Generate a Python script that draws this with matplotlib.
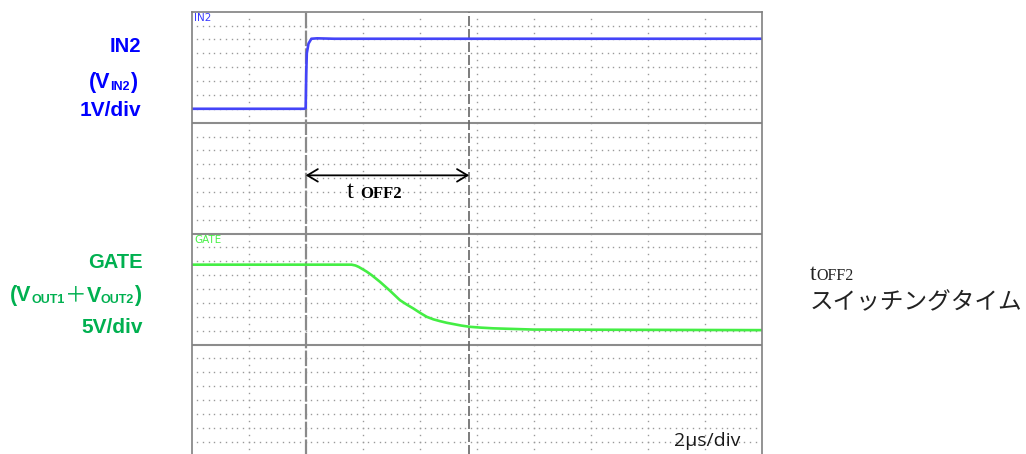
import numpy as np
import matplotlib.pyplot as plt

W, H = 1026, 454

# IN2 trace, volts (1V/div); time in µs from the IN2 edge
in2_t = [-4.0, -0.05, 0.0, 0.02, 0.04, 0.1, 0.2, 0.4, 1.0, 3.0, 8.0, 16.0]
in2_v = [0.0, 0.0, 0.05, 2.5, 4.0, 4.7, 5.05, 5.08, 5.05, 5.05, 5.05, 5.05]

# GATE trace, volts (5V/div)
gate_t = [-4.0, 1.61, 1.75, 1.86, 1.96, 2.14, 2.32, 2.61, 2.96, 3.31, 3.55, 3.78,
          4.02, 4.25, 4.48, 4.71, 4.95, 5.18, 5.46, 5.76, 6.15, 6.58, 8.0, 16.0]
gate_v = [23.8, 23.8, 23.5, 23.0, 22.4, 21.3, 20.0, 17.6, 14.4, 11.0, 9.4, 8.0,
          6.4, 5.0, 4.1, 3.45, 2.85, 2.4, 1.85, 1.4, 1.1, 0.85, 0.4, 0.2]

t_off2 = 5.74  # second cursor, µs

# screen: 10 div x 32 div, four stacked 8-div panels
IN2_ZERO, IN2_SCALE = 25, 1.0
GATE_ZERO, GATE_SCALE = 9, 5.0

fig = plt.figure(figsize=(W / 100, H / 100), dpi=100)
ax = fig.add_axes([191.7 / W, 1 - 455.5 / H, 569.8 / W, 443.8 / H])
ax.set_xlim(-4, 16)
ax.set_ylim(0, 32)
ax.set_xticks([])
ax.set_yticks([])
for s in ax.spines.values():
    s.set_color('#808080')
    s.set_linewidth(1.2)

# dotted graticule
dot = dict(ls='none', marker='s', markersize=1.0, markeredgewidth=0, color='#9a9a9a')
gx = np.arange(-4 + 0.2, 16 - 0.1, 0.2)
for k in range(1, 32):
    if k % 8:
        ax.plot(gx, np.full_like(gx, k), **dot)
gy = np.arange(0.5, 32, 0.5)
for i in range(1, 10):
    if i != 2:
        ax.plot(np.full_like(gy, -4 + 2 * i), gy, **dot)
for k in (8, 16, 24):
    ax.axhline(k, color='#8c8c8c', lw=1.5)

# cursors
ax.axvline(0, color='#8a8a8a', lw=1.6, ls=(0, (7, 1)))
ax.axvline(t_off2, color='#666666', lw=1.2, ls=(0, (6, 1.8)))

# traces
ax.plot(in2_t, IN2_ZERO + np.array(in2_v) / IN2_SCALE, color='#4444f8', lw=1.9)
ax.plot(gate_t, GATE_ZERO + np.array(gate_v) / GATE_SCALE, color='#44ee44', lw=1.9)

ax.text(0.004, 0.996, 'IN2', transform=ax.transAxes, color='#3a3aff',
        fontsize=7.5, va='top', ha='left')
ax.text(0.004, 0.496, 'GATE', transform=ax.transAxes, color='#46f046',
        fontsize=7.5, va='top', ha='left')
ax.text(0.847, 0.022, '2µs/div', transform=ax.transAxes, color='#1a1a1a',
        fontsize=14, family='Open Sans', va='baseline', ha='left')

ax.annotate('', xy=(0, 20.2), xytext=(t_off2, 20.2),
            arrowprops=dict(arrowstyle='<->, head_length=0.75, head_width=0.45',
                            mutation_scale=10, color='black', lw=1.3,
                            shrinkA=0, shrinkB=0))


def fy(y):
    return 1 - y / H


def run(x, y, parts, color):
    # text pieces set one after another on a common baseline (pixels from top)
    prev = None
    for text, size, family, weight, dy in parts:
        kw = dict(color=color, fontsize=size, family=family, fontweight=weight,
                  va='baseline', ha='left')
        if prev is None:
            prev = fig.text(x / W, fy(y + dy), text, **kw)
        else:
            prev = ax.annotate(text, xy=(1, fy(y + dy)),
                               xycoords=(prev, 'figure fraction'),
                               annotation_clip=False, **kw)
    return prev


SANS = ['Liberation Sans', 'DejaVu Sans']
CJK = ['Noto Sans CJK JP', 'DejaVu Sans']
SERIF = ['Liberation Serif', 'DejaVu Serif']
BLUE = '#0000ff'
GREEN = '#00b050'

fig.text(141.5 / W, fy(52), 'IN2', color=BLUE, fontsize=14.5, family=SANS,
         fontweight='bold', ha='right', va='baseline')
run(89, 88, [('(V', 15.5, SANS, 'bold', 0), ('IN2', 9, SANS, 'bold', 1.5),
             (')', 15.5, SANS, 'bold', 0)], BLUE)
fig.text(141.5 / W, fy(116), '1V/div', color=BLUE, fontsize=15, family=SANS,
         fontweight='bold', ha='right', va='baseline')

fig.text(143 / W, fy(268), 'GATE', color=GREEN, fontsize=14.5, family=SANS,
         fontweight='bold', ha='right', va='baseline')
run(10, 301.5, [('(V', 15.5, SANS, 'bold', 0), ('OUT1', 9, SANS, 'bold', 1.5),
                ('＋', 15.5, CJK, 'normal', 0), ('V', 15.5, SANS, 'bold', 0),
                ('OUT2', 9, SANS, 'bold', 1.5), (')', 15.5, SANS, 'bold', 0)], GREEN)
fig.text(143 / W, fy(333), '5V/div', color=GREEN, fontsize=15, family=SANS,
         fontweight='bold', ha='right', va='baseline')

# tOFF2 under the arrow
run(347, 197.5, [('t ', 18, SERIF, 'normal', 0), ('OFF2', 12, SERIF, 'bold', 0)], 'black')

# caption on the right
run(810, 280, [('t', 17, SERIF, 'normal', 0), ('OFF2', 11.5, SERIF, 'normal', 0)], '#222222')
fig.text(810 / W, fy(303), 'スイッチングタイム', color='#222222', fontsize=17,
         family=CJK, va='center', ha='left')

fig.savefig('out.png', dpi=100, facecolor='white')
